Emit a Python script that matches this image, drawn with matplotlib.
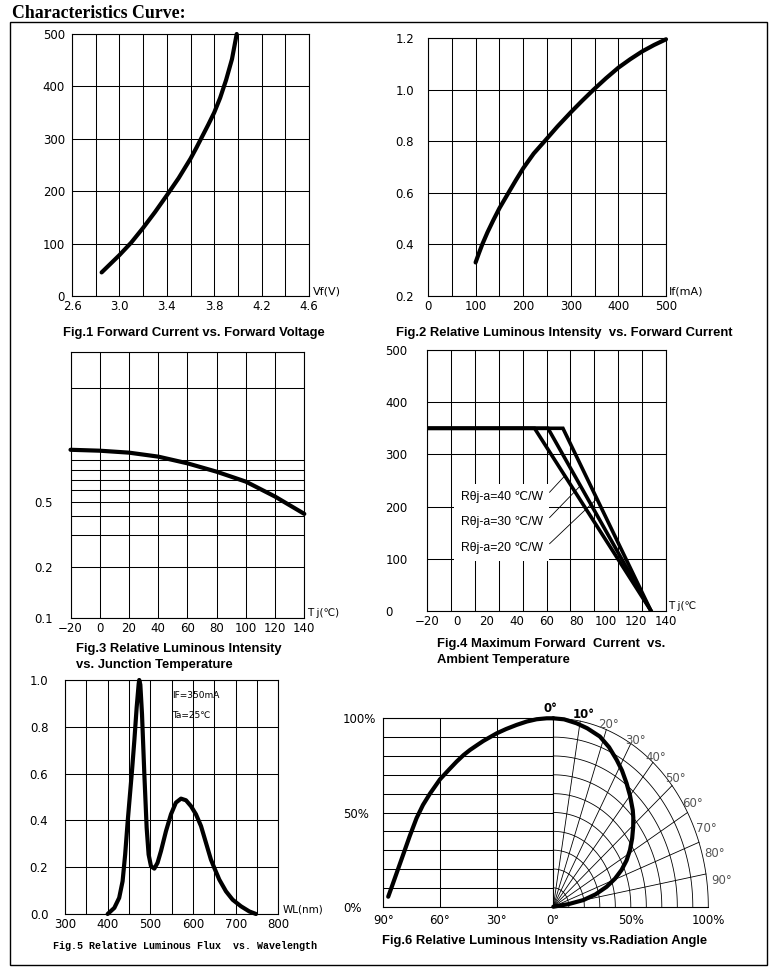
import numpy as np
import matplotlib.pyplot as plt
from matplotlib.patches import Rectangle
from matplotlib.ticker import NullFormatter

W, H = 778, 977

# Fig.1 forward current vs forward voltage
vf_volt = [2.85, 2.9, 3.0, 3.1, 3.2, 3.3, 3.4, 3.5, 3.6, 3.65, 3.7, 3.75, 3.8, 3.85, 3.9, 3.95, 3.99]
vf_current = [45, 56, 78, 102, 130, 160, 192, 225, 262, 283, 305, 327, 350, 378, 412, 452, 500]

# Fig.2 relative luminous intensity vs forward current
if_current = [100, 107, 114, 125, 137, 150, 169, 185, 200, 222, 245, 272, 300, 324, 348,
              374, 400, 425, 450, 475, 500]
if_intensity = [0.33, 0.366, 0.40, 0.447, 0.493, 0.54, 0.60, 0.65, 0.695, 0.752, 0.80, 0.857,
                0.912, 0.957, 1.0, 1.044, 1.085, 1.118, 1.148, 1.173, 1.195]

# Fig.3 relative luminous intensity vs junction temperature (log axis)
tj_temp = [-20, 0, 20, 40, 60, 80, 100, 120, 140]
tj_intensity = [0.975, 0.963, 0.938, 0.889, 0.812, 0.725, 0.634, 0.518, 0.41]

# Fig.4 derating curves
ta_40 = [-20, 52, 130]
ta_30 = [-20, 61, 130]
ta_20 = [-20, 71, 130]
derate_current = [350, 350, 0]
derate_labels = ['R\u03b8j-a=40 \u2103/W', 'R\u03b8j-a=30 \u2103/W', 'R\u03b8j-a=20 \u2103/W']
label_current = [218, 170, 121]
leader_current = [259, 240, 215]

# Fig.5 spectrum
wl_nm = [400, 415.6, 427, 435, 441, 447, 451, 457, 462.5, 468, 472.7, 474, 476.6, 480.5, 486,
         491.4, 496, 501.6, 509.4, 517, 525, 536.7, 548.4, 560, 571.9, 583.6, 595.3, 607,
         618.8, 630.5, 642, 650, 661.7, 677.3, 693, 712.5, 732, 747.7]
wl_flux = [0, 0.026, 0.069, 0.14, 0.254, 0.397, 0.483, 0.611, 0.74, 0.883, 0.983, 1.0, 0.98,
           0.854, 0.597, 0.369, 0.254, 0.204, 0.194, 0.219, 0.269, 0.354, 0.426, 0.476, 0.493,
           0.486, 0.461, 0.426, 0.376, 0.304, 0.233, 0.197, 0.147, 0.097, 0.061, 0.033, 0.011, 0]

# Fig.6 radiation pattern
rad_angle = [87.4, 85, 82, 79, 76, 72.4, 69, 65.3, 62.5, 60, 55, 51.2, 47.5, 44.1, 40, 37,
             33.5, 30, 25, 19.4, 14, 8.8, 3.5, 0]
rad_intensity = [5.3, 12, 20.5, 29, 37.5, 47, 54, 60, 64, 67.6, 73, 77, 80.5, 83.2, 86, 88,
                 90, 92, 94.3, 96.5, 98.3, 99.5, 100, 100]
polar_angle = [0, 4, 8.8, 13, 18.4, 23, 27.7, 31.5, 35.8, 40, 45, 47.5, 50.5, 54.5, 58.7,
               62.5, 66.1, 69.5, 72.9, 76.5, 79.7, 82, 84]
polar_r = [1.0, 0.997, 0.985, 0.972, 0.952, 0.92, 0.88, 0.848, 0.808, 0.77, 0.725, 0.70,
           0.668, 0.625, 0.579, 0.533, 0.482, 0.425, 0.36, 0.28, 0.197, 0.1, 0]
polar_labels = ['0\u00b0', '10\u00b0', '20\u00b0', '30\u00b0', '40\u00b0', '50\u00b0',
                '60\u00b0', '70\u00b0', '80\u00b0', '90\u00b0']

plt.rcParams['font.family'] = ['DejaVu Sans']
SANS = ['Liberation Sans', 'DejaVu Sans']
TICK = 8.5
CURVE = 3.0

fig = plt.figure(figsize=(W / 100, H / 100), dpi=100)


def box(x0, y0, x1, y1):
    return fig.add_axes([x0 / W, 1 - y1 / H, (x1 - x0) / W, (y1 - y0) / H])


def style(ax, xgrid, ygrid):
    ax.set_xticks(xgrid, minor=True)
    ax.set_yticks(ygrid, minor=True)
    ax.xaxis.remove_overlapping_locs = False
    ax.yaxis.remove_overlapping_locs = False
    ax.grid(which='minor', color='black', lw=0.75)
    ax.tick_params(which='both', length=0, labelsize=TICK)
    for s in ax.spines.values():
        s.set_linewidth(0.8)


def caption(x, y, s, ha='center', size=9.4, family=SANS):
    fig.text(x / W, 1 - y / H, s, ha=ha, va='center', fontsize=size,
             fontweight='bold', family=family)


def curve(ax, x, y, **kw):
    ax.plot(x, y, color='black', lw=CURVE, solid_capstyle='round',
            solid_joinstyle='round', clip_on=False, **kw)


# page frame and title
fig.add_artist(Rectangle((10 / W, 1 - 965 / H), 757 / W, 943 / H,
                         transform=fig.transFigure, fill=False, lw=1.0, ec='black'))
fig.text(12 / W, 1 - 14 / H, 'Characteristics Curve:', ha='left', va='center',
         fontsize=12.8, fontweight='bold', family=['Liberation Serif', 'DejaVu Serif'])

# ---- Fig.1
ax1 = box(72, 34, 309, 296)
curve(ax1, vf_volt, vf_current)
ax1.set_xlim(2.6, 4.6)
ax1.set_ylim(0, 500)
style(ax1, np.arange(2.6, 4.61, 0.2), np.arange(0, 501, 100))
ax1.set_xticks([2.6, 3.0, 3.4, 3.8, 4.2, 4.6])
ax1.set_xticklabels(['2.6', '3.0', '3.4', '3.8', '4.2', '4.6'])
ax1.set_yticks([0, 100, 200, 300, 400, 500])
ax1.tick_params(axis='y', pad=5)
ax1.tick_params(axis='x', pad=3)
ax1.text(1.015, 0.0, 'Vf(V)', transform=ax1.transAxes, fontsize=8, ha='left', va='bottom')
caption(194, 333, 'Fig.1 Forward Current vs. Forward Voltage')

# ---- Fig.2
ax2 = box(428, 38, 666, 296)
curve(ax2, if_current, if_intensity)
ax2.set_xlim(0, 500)
ax2.set_ylim(0.2, 1.2)
style(ax2, np.arange(0, 501, 50), np.arange(0.2, 1.21, 0.2))
ax2.set_xticks([0, 100, 200, 300, 400, 500])
ax2.set_yticks([0.2, 0.4, 0.6, 0.8, 1.0, 1.2])
ax2.set_yticklabels(['0.2', '0.4', '0.6', '0.8', '1.0', '1.2'])
ax2.tick_params(axis='y', pad=10)
ax2.tick_params(axis='x', pad=3)
ax2.text(1.012, 0.0, 'If(mA)', transform=ax2.transAxes, fontsize=8, ha='left', va='bottom')
caption(564, 333, 'Fig.2 Relative Luminous Intensity  vs. Forward Current')

# ---- Fig.3
ax3 = box(70.5, 352.3, 304.3, 618.3)
curve(ax3, tj_temp, tj_intensity)
ax3.set_yscale('log')
ax3.set_xlim(-20, 140)
ax3.set_ylim(0.1, 3.64)
style(ax3, np.arange(-20, 141, 20),
      [0.1, 0.2, 0.31, 0.397, 0.48, 0.566, 0.645, 0.739, 0.844, 2.24, 3.64])
ax3.yaxis.set_minor_formatter(NullFormatter())
ax3.set_xticks(np.arange(-20, 141, 20))
ax3.set_xticklabels(['\u221220', '0', '20', '40', '60', '80', '100', '120', '140'])
ax3.set_yticks([0.1, 0.2, 0.48])
ax3.set_yticklabels(['0.1', '0.2', '0.5'])
ax3.tick_params(axis='y', pad=13)
ax3.tick_params(axis='x', pad=3)
ax3.text(1.01, 0.0, 'T j(\u2103)', transform=ax3.transAxes, fontsize=7.5, ha='left', va='bottom')
caption(76, 649, 'Fig.3 Relative Luminous Intensity', ha='left')
caption(76, 665, 'vs. Junction Temperature', ha='left')

# ---- Fig.4
ax4 = box(427, 350, 666, 611)
for ta in (ta_40, ta_30, ta_20):
    ax4.plot(ta, derate_current, color='black', lw=2.6, solid_joinstyle='miter', zorder=3)
ax4.set_xlim(-20, 140)
ax4.set_ylim(0, 500)
style(ax4, np.linspace(-20, 140, 11), np.arange(0, 501, 100))
ax4.set_xticks(np.arange(-20, 141, 20))
ax4.set_xticklabels(['\u221220', '0', '20', '40', '60', '80', '100', '120', '140'])
ax4.set_yticks([0, 100, 200, 300, 400, 500])
for t in ax4.get_yticklabels():
    t.set_ha('left')
ax4.tick_params(axis='y', pad=30)
ax4.tick_params(axis='x', pad=3)
for ta, lab, lc, lead in zip((ta_40, ta_30, ta_20), derate_labels, label_current, leader_current):
    x_end = np.interp(lead, derate_current[::-1], ta[::-1])
    ax4.annotate(lab, xy=(x_end, lead), xytext=(2.5, lc), fontsize=8.8, family=SANS,
                 ha='left', va='center', zorder=2.5,
                 bbox=dict(boxstyle='square,pad=0.55', fc='white', ec='none'),
                 arrowprops=dict(arrowstyle='-', lw=0.6, color='black', shrinkA=0, shrinkB=0,
                                 relpos=(1.0, 0.3)))
ax4.text(1.01, 0.0, 'T j(\u2103', transform=ax4.transAxes, fontsize=7.5, ha='left', va='bottom')
caption(437, 644, 'Fig.4 Maximum Forward  Current  vs.', ha='left')
caption(437, 660, 'Ambient Temperature', ha='left')

# ---- Fig.5
ax5 = box(65, 680, 278.3, 914)
curve(ax5, wl_nm, wl_flux)
ax5.set_xlim(300, 800)
ax5.set_ylim(0, 1.0)
style(ax5, np.arange(300, 801, 50), np.arange(0, 1.01, 0.2))
ax5.set_xticks([300, 400, 500, 600, 700, 800])
ax5.set_yticks([0, 0.2, 0.4, 0.6, 0.8, 1.0])
ax5.set_yticklabels(['0.0', '0.2', '0.4', '0.6', '0.8', '1.0'])
ax5.tick_params(axis='y', pad=12)
ax5.tick_params(axis='x', pad=3)
ax5.text(551, 0.933, 'IF=350mA', fontsize=6.5, ha='left', va='center')
ax5.text(551, 0.848, 'Ta=25\u2103', fontsize=6.5, ha='left', va='center')
ax5.text(1.02, 0.0, 'WL(nm)', transform=ax5.transAxes, fontsize=7.5, ha='left', va='bottom')
caption(185, 946, 'Fig.5 Relative Luminous Flux  vs. Wavelength', size=7.2,
        family=['Liberation Mono', 'DejaVu Sans Mono'])

# ---- Fig.6 left: intensity vs angle
ax6 = box(383.3, 718.3, 553.3, 906.7)
curve(ax6, rad_angle, rad_intensity)
ax6.set_xlim(90, 0)
ax6.set_ylim(0, 100)
style(ax6, [90, 60, 30, 0], np.arange(0, 101, 10))
ax6.set_xticks([90, 60, 30, 0])
ax6.set_xticklabels(['90\u00b0', '60\u00b0', '30\u00b0', '0\u00b0'])
ax6.set_yticks([0, 50, 100])
ax6.set_yticklabels(['0%', '50%', '100%'])
for t in ax6.get_yticklabels():
    t.set_ha('left')
ax6.tick_params(axis='y', pad=29)
ax6.tick_params(axis='x', pad=5)

# ---- Fig.6 right: polar quarter
ax6p = box(553.3, 718.3, 708.3, 906.7)
ax6p.set_xlim(0, 1)
ax6p.set_ylim(0, 1)
ax6p.set_facecolor('none')
for side in ('top', 'right', 'left'):
    ax6p.spines[side].set_visible(False)
ax6p.spines['bottom'].set_linewidth(0.8)
ax6p.tick_params(which='both', length=0, labelsize=TICK, pad=5)
ax6p.set_yticks([])
ax6p.set_xticks([0.5, 1.0])
ax6p.set_xticklabels(['50%', '100%'])
arc = np.radians(np.linspace(0, 90, 120))
for r in np.arange(0.1, 1.01, 0.1):
    ax6p.plot(r * np.sin(arc), r * np.cos(arc), color='black', lw=0.6, clip_on=False)
for a in np.radians(np.arange(10, 90, 10)):
    ax6p.plot([0, np.sin(a)], [0, np.cos(a)], color='black', lw=0.6, clip_on=False)
pa = np.radians(polar_angle)
curve(ax6p, np.array(polar_r) * np.sin(pa), np.array(polar_r) * np.cos(pa), zorder=3)
lab_ang = np.radians([-1, 10.8, 20.4, 30.8, 39.9, 49.1, 58.5, 67.3, 74.9, 82.7])
lab_r = [1.05, 1.04, 1.03, 1.03, 1.03, 1.04, 1.05, 1.07, 1.08, 1.095]
for i, (lab, a, r) in enumerate(zip(polar_labels, lab_ang, lab_r)):
    col = 'black' if i < 2 else '#555555'
    ax6p.text(r * np.sin(a), r * np.cos(a), lab, fontsize=8.5, ha='center', va='center',
              color=col, fontweight='bold' if i < 2 else 'normal', clip_on=False)
caption(545, 941, 'Fig.6 Relative Luminous Intensity vs.Radiation Angle')

fig.savefig('out.png', dpi=100)
